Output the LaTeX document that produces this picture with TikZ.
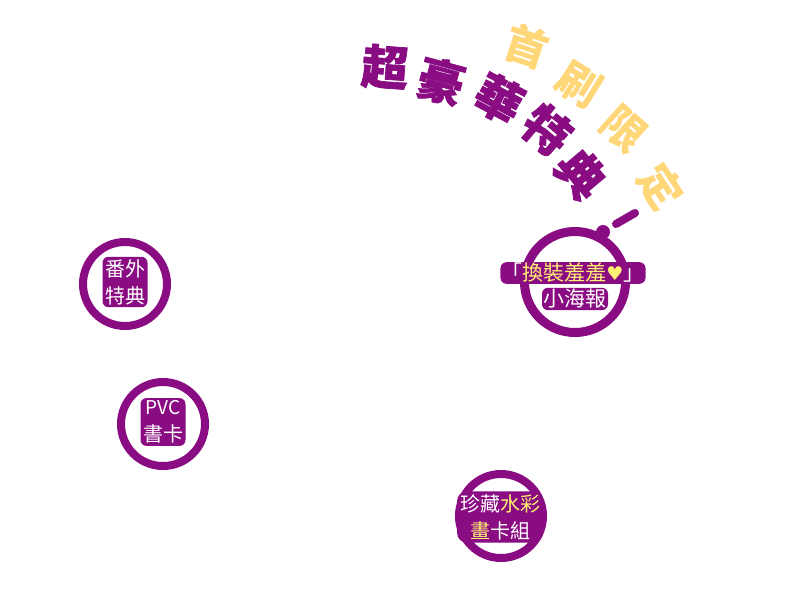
\documentclass[tikz,border=0pt]{standalone}
\usepackage{fontspec}
\newfontfamily\cjk{Noto Sans CJK TC}
\newfontfamily\cjkheavy{Noto Sans CJK TC}[BoldFeatures={FakeBold=1.5}]
\newfontfamily\symf{DejaVu Sans}
\definecolor{pp}{RGB}{138,12,130}
\definecolor{ty}{RGB}{255,214,120}
\definecolor{iy}{RGB}{255,240,115}
\begin{document}
\begin{tikzpicture}[x=1pt,y=-1pt,
  ring/.style={circle, draw=pp, line width=8pt, fill=white, inner sep=0pt},
  halo/.style={fill=pp, rounded corners=6pt, inner sep=2.5pt, text=white, align=center},
  ptitle/.style={text=pp, inner sep=0pt, font=\cjkheavy\bfseries\fontsize{47}{47}\selectfont},
  ytitle/.style={text=ty, inner sep=0pt, font=\cjk\bfseries\fontsize{43}{43}\selectfont},
  smalltxt/.style={font=\cjk\fontsize{20}{27}\selectfont}]
\useasboundingbox (0,0) rectangle (800,600);
\fill[white] (0,0) rectangle (800,600);

% title: yellow arc
\node[ytitle, rotate=-18] (y1) at (527,46) {首};
\node[ytitle, rotate=-32] (y2) at (579,84) {刷};
\node[ytitle, rotate=-42] (y3) at (624,129) {限};
\node[ytitle, rotate=-57] (y4) at (661,186) {定};

% title: purple arc
\node[ptitle, rotate=-4] (p1) at (385,67) {超};
\node[ptitle, rotate=-15] (p2) at (441,81) {豪};
\node[ptitle, rotate=-28] (p3) at (499,99) {華};
\node[ptitle, rotate=-40] (p4) at (547,130) {特};
\node[ptitle, rotate=-50] (p5) at (581,174) {典};

% big circle
\node[ring, line width=9pt, minimum size=101pt] (c4) at (575,282) {};
\node[circle, fill=pp, minimum size=14pt, inner sep=0pt] (knob) at (603,232) {};
\coordinate (d1) at (616,224);
\coordinate (d2) at (635,213);
\draw[pp, line width=8pt, line cap=round] (d1) -- (d2);
\node[halo, text=iy, font=\cjk\fontsize{21}{21}\selectfont, inner sep=1pt] (c4a) at (573,273)
  {{\color{white}「}換裝羞羞{\symf\fontsize{19}{19}\selectfont♥}{\color{white}」}};
\node[halo, font=\cjk\fontsize{21}{21}\selectfont, inner sep=1.5pt] (c4b) at (575,299) {小海報};

% small circles
\node[ring, minimum size=84pt] (c1) at (125,284) {};
\node[halo, smalltxt] (c1t) at (125,282) {番外\\特典};

\node[ring, minimum size=84pt] (c2) at (163,424) {};
\node[halo, smalltxt] (c2t) at (163,422) {{\fontsize{19}{19}\selectfont PVC}\\書卡};

\node[ring, minimum size=84pt] (c3) at (501,516) {};
\node[halo, smalltxt, rounded corners=10pt, inner sep=3pt] (c3t) at (500,517)
  {珍藏{\color{iy}水彩}\\{\color{iy}畫}卡組};
\end{tikzpicture}
\end{document}
